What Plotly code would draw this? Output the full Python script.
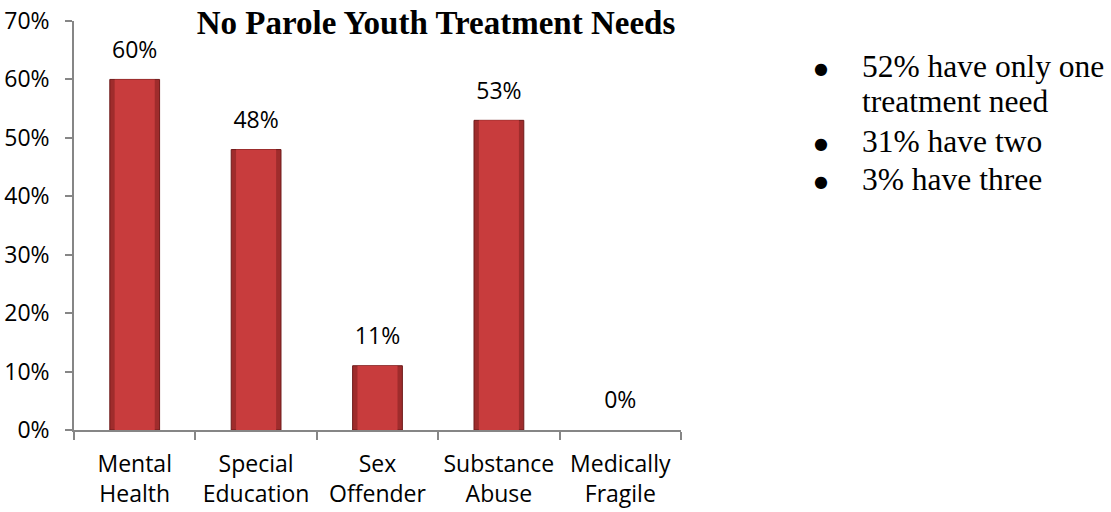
import plotly.graph_objects as go

categories = ["Mental<br>Health", "Special<br>Education", "Sex<br>Offender", "Substance<br>Abuse", "Medically<br>Fragile"]
values = [60, 48, 11, 53, 0]
value_labels = ["60%", "48%", "11%", "53%", "0%"]
y_ticks = [0, 10, 20, 30, 40, 50, 60, 70]
y_tick_labels = ["0%", "10%", "20%", "30%", "40%", "50%", "60%", "70%"]
bullet_lines = ["52% have only one", "treatment need", "31% have two", "3% have three"]
bullet_flags = [True, False, True, True]

label_font = dict(family="Open Sans, Liberation Sans, sans-serif", size=23, color="#000000")

fig = go.Figure()
# outer (darker edge) bar
fig.add_trace(go.Bar(
    x=categories, y=values, width=0.41,
    marker=dict(color="#9f2c2c",
                line=dict(color="#6e1a1a", width=[1 if v > 0 else 0 for v in values])),
    hoverinfo="skip",
))
# inner (lighter face) bar
fig.add_trace(go.Bar(
    x=categories, y=values, width=0.33,
    marker=dict(color="#c83c3d", line=dict(width=0)),
))
fig.add_trace(go.Scatter(
    x=categories, y=values, mode="markers+text",
    text=value_labels, textposition="top center", cliponaxis=False,
    textfont=label_font,
    marker=dict(size=24, opacity=0),
    hoverinfo="skip",
))

fig.update_layout(
    width=1111, height=512,
    margin=dict(l=74, r=430, t=21, b=82, autoexpand=False),
    paper_bgcolor="white", plot_bgcolor="white",
    showlegend=False,
    barmode="overlay",
    title=dict(text="<b>No Parole Youth Treatment Needs</b>", x=436/1111, xanchor="center",
               y=1 - 22/512, yanchor="middle",
               font=dict(family="Liberation Serif, Times New Roman, serif", size=33, color="#000000")),
)
fig.update_yaxes(range=[0, 70], tickvals=y_ticks, ticktext=y_tick_labels,
                 showgrid=False, showline=True, linecolor="#868686", linewidth=1.5,
                 ticks="outside", ticklen=7, tickcolor="#868686", tickwidth=1.5,
                 tickfont=label_font, zeroline=False, ticklabelstandoff=11, automargin=False)
fig.update_xaxes(showline=True, linecolor="#868686", linewidth=1.5,
                 ticks="outside", tickson="boundaries", ticklen=8, tickcolor="#868686", tickwidth=1.5,
                 tickfont=label_font, showgrid=False, ticklabelstandoff=13, tickangle=0,
                 automargin=False)

text_font = dict(family="Liberation Serif, Times New Roman, serif", size=31.5, color="#000000")
row_y = [66, 102, 141, 179]
for txt, flag, py in zip(bullet_lines, bullet_flags, row_y):
    fig.add_annotation(xref="paper", yref="paper",
                       x=(860-74)/607, y=(430-py)/409, xanchor="left", yanchor="middle",
                       text=txt, showarrow=False, font=text_font)
    if flag:
        fig.add_annotation(xref="paper", yref="paper",
                           x=(821-74)/607, y=(430-py - 2)/409, xanchor="center", yanchor="middle",
                           text="●", showarrow=False,
                           font=dict(family="DejaVu Sans, sans-serif", size=16, color="#000000"))

fig.write_html("out.html")
